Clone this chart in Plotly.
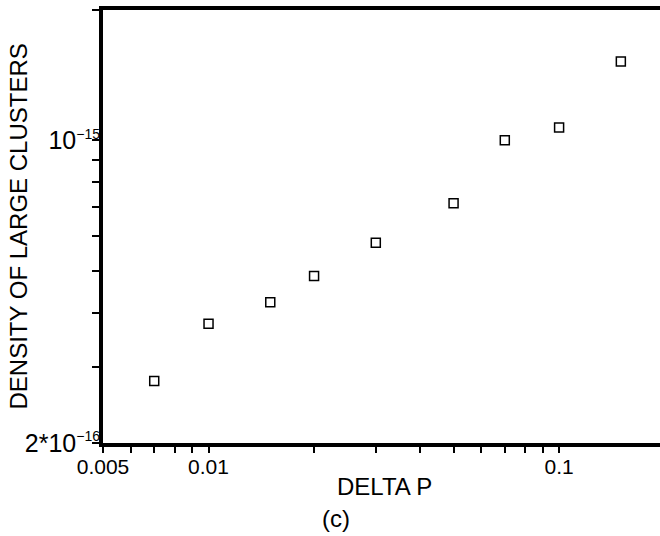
import numpy as np
import plotly.graph_objects as go

# data
delta_p = [0.007, 0.01, 0.015, 0.02, 0.03, 0.05, 0.07, 0.1, 0.15]
density = [2.78e-16, 3.77e-16, 4.23e-16, 4.86e-16, 5.8e-16, 7.16e-16, 1.0e-15, 1.07e-15, 1.52e-15]

x_tickvals = [0.005, 0.006, 0.007, 0.008, 0.009, 0.01, 0.02, 0.03, 0.04, 0.05,
              0.06, 0.07, 0.08, 0.09, 0.1]
x_ticktext = ["0.005", "", "", "", "", "0.01", "", "", "", "", "", "", "", "", "0.1"]
y_tickvals = [2e-16, 3e-16, 4e-16, 5e-16, 6e-16, 7e-16, 8e-16, 9e-16, 1e-15, 2e-15]
SUP = "<sup><span style='font-size:14px'>\u2212{}</span></sup>"
y_ticktext = ["2*10" + SUP.format(16), "", "", "", "", "", "", "", "10" + SUP.format(15), ""]

FONT = "Liberation Sans, Arial, sans-serif"

fig = go.Figure()
fig.add_trace(go.Scatter(
    x=delta_p, y=density, mode="markers",
    marker=dict(symbol="square-open", size=9, color="black", line=dict(width=1.5, color="black")),
    showlegend=False,
))

fig.update_layout(
    width=660, height=536,
    margin=dict(l=103, r=0, t=10, b=93),
    paper_bgcolor="white", plot_bgcolor="white",
    font=dict(family=FONT, color="black"),
    xaxis=dict(
        type="log", range=[np.log10(0.005), np.log10(0.194)],
        showgrid=False, zeroline=False,
        showline=True, linewidth=4, linecolor="black", mirror=True,
        ticks="outside", ticklen=6, tickwidth=1.5, tickcolor="black",
        tickvals=x_tickvals, ticktext=x_ticktext,
        tickfont=dict(size=21, family=FONT),
        ticklabelstandoff=-4,
    ),
    yaxis=dict(
        type="log", range=[np.log10(2e-16), np.log10(2e-15)],
        showgrid=False, zeroline=False,
        showline=True, linewidth=4, linecolor="black", mirror=False,
        ticks="outside", ticklen=7, tickwidth=1.5, tickcolor="black",
        tickvals=y_tickvals, ticktext=y_ticktext,
        tickfont=dict(size=25, family=FONT),
        ticklabelstandoff=-13,
    ),
    annotations=[
        dict(text="DENSITY OF LARGE CLUSTERS", textangle=-90, xref="paper", yref="paper",
             x=(18 - 103) / 557, y=0.5, xanchor="center", yanchor="middle",
             showarrow=False, font=dict(size=24, family=FONT)),
        dict(text="DELTA P", xref="paper", yref="paper",
             x=(384 - 103) / 557, y=(443 - 486) / 433, xanchor="center", yanchor="middle",
             showarrow=False, font=dict(size=24, family=FONT)),
        dict(text="(c)", xref="paper", yref="paper",
             x=(336 - 103) / 557, y=(443 - 518) / 433, xanchor="center", yanchor="middle",
             showarrow=False, font=dict(size=24, family=FONT)),
    ],
)

fig.write_html("out.html")
